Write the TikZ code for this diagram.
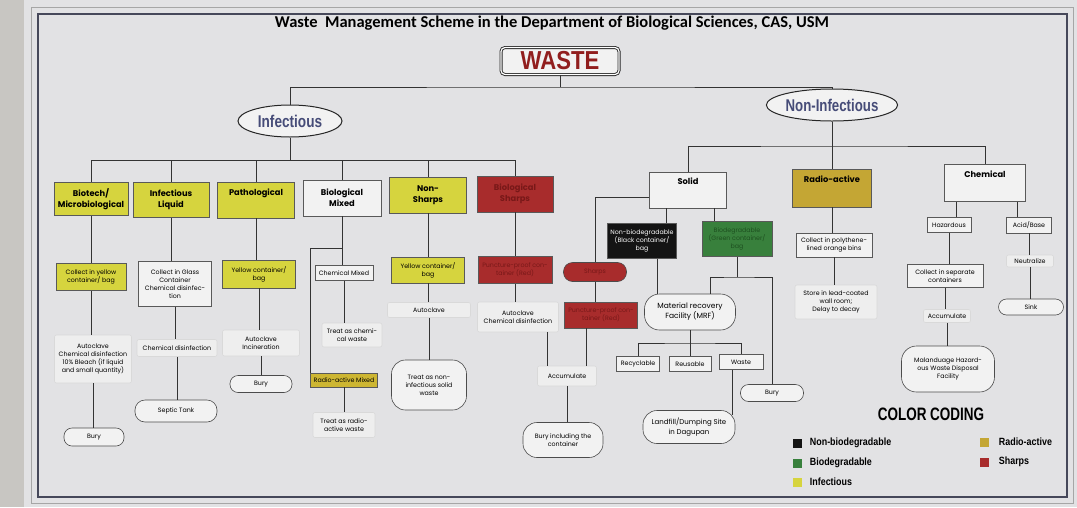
\documentclass[tikz,border=0pt]{standalone}
\usepackage{fontspec}
\setmainfont{Poppins}
\newfontfamily\ttlfont{Carlito}
\newfontfamily\hvyfont{Liberation Sans}
\usepackage{graphicx}
\usepackage{tikz}
\usetikzlibrary{shapes.geometric,positioning,calc}

\definecolor{bgc}{RGB}{226,226,228}
\definecolor{edgec}{RGB}{200,198,194}
\definecolor{framec}{RGB}{70,72,90}
\definecolor{boxc}{RGB}{242,242,242}
\definecolor{softc}{RGB}{238,238,238}
\definecolor{yellowc}{RGB}{214,212,62}
\definecolor{redc}{RGB}{168,44,44}
\definecolor{redtxt}{RGB}{120,24,24}
\definecolor{goldc}{RGB}{196,166,52}
\definecolor{rmixc}{RGB}{205,182,50}
\definecolor{greenc}{RGB}{56,128,60}
\definecolor{greentxt}{RGB}{30,80,32}
\definecolor{blackc}{RGB}{20,20,20}
\definecolor{wastec}{RGB}{145,30,30}
\definecolor{ovalc}{RGB}{70,76,120}

\newcommand\boxtext{\fontsize{6.3}{8}\selectfont}
\newcommand\hdtext{\fontsize{8.3}{11}\selectfont\bfseries}
\newcommand\legtext{\hvyfont\fontsize{10.5}{10.5}\selectfont\bfseries}

\tikzset{
  box/.style={draw=black!65,fill=boxc,line width=0.6pt,align=center,inner sep=1pt,font=\boxtext},
  ybox/.style={box,fill=yellowc},
  rbox/.style={box,fill=redc,text=redtxt},
  hbox/.style={box,font=\hdtext},
  soft/.style={box,draw=black!15,fill=softc,rounded corners=2pt},
  term/.style={box,draw=black!70,rounded corners=8pt},
  oval/.style={ellipse,draw=black!85,line width=1pt,fill=boxc,inner sep=0pt,text=ovalc},
  link/.style={draw=black!80,line width=1pt},
  legsq/.style={minimum size=9pt,inner sep=0pt},
  legtxt/.style={font=\legtext,anchor=west,inner sep=0pt}
}

\begin{document}
\begin{tikzpicture}[x=1pt,y=-1pt]
\useasboundingbox (0,0) rectangle (1077,507);
\fill[bgc] (0,0) rectangle (1077,507);
\fill[edgec] (0,0) rectangle (24,507);
\draw[black!35,line width=0.6pt] (31,7) rectangle (1073,503);
\draw[framec,line width=1.2pt] (38,14) rectangle (1067,497);

\node[font=\ttlfont\fontsize{16.5}{16.5}\selectfont\bfseries] (title) at (552,23) {Waste\ \ Management Scheme in the Department of Biological Sciences, CAS, USM};

\node[draw=black!85,double=white,double distance=1.2pt,line width=0.9pt,rounded corners=4pt,fill=boxc,minimum width=118pt,minimum height=27pt,inner sep=0pt,text=wastec,font=\hvyfont\fontsize{26}{26}\selectfont\bfseries] (waste) at (560,61) {\scalebox{0.85}[1]{WASTE}};
\node[oval,minimum width=104pt,minimum height=32pt,font=\hvyfont\fontsize{17}{17}\selectfont\bfseries] (infect) at (290,121) {\scalebox{0.8}[1]{Infectious}};
\node[oval,minimum width=108pt,minimum height=32pt,font=\hvyfont\fontsize{17}{17}\selectfont\bfseries] (noninf) at (832,105) {\scalebox{0.78}[1]{Non-Infectious}};

\coordinate (wbus) at (560,87);
\coordinate (ibus) at (290,160);
\coordinate (nbus) at (832,146);
\coordinate (mjoin) at (342,248);
\coordinate (gjoin) at (737,277);
\coordinate (rjoin) at (690,343);

% infectious columns
\node[ybox,font=\hdtext,minimum width=74pt,minimum height=33pt] (bio) at (91,199) {Biotech/\\Microbiological};
\node[ybox,font=\hdtext,minimum width=76pt,minimum height=35pt] (liq) at (171,200) {Infectious\\Liquid};
\node[ybox,font=\hdtext,minimum width=77pt,minimum height=36pt] (path) at (256,200) {Pathological\\[4pt]\mbox{}};
\node[hbox,minimum width=78pt,minimum height=36pt] (bmix) at (342,198) {Biological\\Mixed};
\node[ybox,font=\hdtext,minimum width=77pt,minimum height=36pt] (nons) at (428,195) {Non-\\Sharps};
\node[rbox,font=\hdtext,minimum width=76pt,minimum height=36pt] (bsharp) at (515,194) {Biological\\Sharps};

\node[ybox,minimum width=70pt,minimum height=27pt] (bio2) at (91,277) {Collect in yellow\\container/ bag};
\node[box,minimum width=73pt,minimum height=45pt] (liq2) at (175,284) {Collect in Glass\\Container\\Chemical disinfec-\\tion};
\node[ybox,minimum width=73pt,minimum height=28pt] (path2) at (259,274) {Yellow container/\\bag};

\node[soft,minimum width=77pt,minimum height=48pt] (bio3) at (93,359) {Autoclave\\Chemical disinfection\\10\% Bleach (if liquid\\and small quantity)};
\node[soft,minimum width=80pt,minimum height=17pt] (liq3) at (177,348) {Chemical disinfection};
\node[soft,minimum width=77pt,minimum height=26pt] (path3) at (261,343) {Autoclave\\Incineration};

\node[term,minimum width=60pt,minimum height=18pt] (bio4) at (94,437) {Bury};
\node[term,minimum width=82pt,minimum height=22pt,rounded corners=10pt] (liq4) at (176,411) {Septic Tank};
\node[term,minimum width=62pt,minimum height=17pt] (path4) at (261,384) {Bury};

\node[box,minimum width=58pt,minimum height=15pt] (cmix) at (344,273) {Chemical Mixed};
\node[soft,minimum width=60pt,minimum height=24pt] (ctreat) at (352,335) {Treat as chemi-\\cal waste};
\node[box,fill=rmixc,minimum width=67pt,minimum height=14pt] (rmix) at (344,380) {Radio-active Mixed};
\node[soft,minimum width=62pt,minimum height=25pt] (rtreat) at (344,425) {Treat as radio-\\active waste};

\node[ybox,minimum width=73pt,minimum height=26pt] (nons2) at (428,270) {Yellow container/\\bag};
\node[soft,minimum width=83pt,minimum height=15pt] (nons3) at (429,310) {Autoclave};
\node[term,minimum width=75pt,minimum height=50pt,rounded corners=14pt] (nons4) at (429,385) {Treat as non-\\infectious solid\\waste};

\node[rbox,minimum width=74pt,minimum height=27pt] (bsh2) at (515,270) {Puncture-proof con-\\tainer (Red)};
\node[soft,minimum width=81pt,minimum height=30pt] (bsh3) at (518,317) {Autoclave\\Chemical disinfection};
\node[soft,minimum width=59pt,minimum height=20pt] (acc) at (567,376) {Accumulate};
\node[term,minimum width=80pt,minimum height=35pt,rounded corners=14pt] (buryc) at (563,440) {Bury including the\\container};

% non-infectious columns
\node[hbox,minimum width=77pt,minimum height=36pt] (solid) at (688,190) {Solid\\[6pt]\mbox{}};
\node[hbox,fill=goldc,minimum width=79pt,minimum height=38pt] (radio) at (832,188) {Radio-active\\[6pt]\mbox{}};
\node[hbox,minimum width=81pt,minimum height=37pt] (chem) at (985,183) {Chemical\\[6pt]\mbox{}};

\node[term,fill=redc,text=redtxt,minimum width=63pt,minimum height=19pt,rounded corners=9pt] (sharps) at (595,272) {Sharps};
\node[rbox,minimum width=73pt,minimum height=26pt] (sharps2) at (601,315) {Puncture-proof con-\\tainer (Red)};
\node[box,fill=blackc,text=white,minimum width=69pt,minimum height=35pt] (nbio) at (642,241) {Non-biodegradable\\(Black container/\\bag};
\node[box,fill=greenc,text=greentxt,minimum width=70pt,minimum height=35pt] (gbio) at (737,239) {Biodegradable\\(Green container/\\bag};
\node[term,minimum width=91pt,minimum height=36pt,rounded corners=15pt,font=\fontsize{7.5}{10}\selectfont] (mrf) at (690,312) {Material recovery\\Facility (MRF)};
\node[box,minimum width=43pt,minimum height=15pt] (recy) at (638,364) {Recyclable};
\node[box,minimum width=42pt,minimum height=15pt] (reus) at (690,364) {Reusable};
\node[box,minimum width=44pt,minimum height=15pt] (wst) at (741,362) {Waste};
\node[term,minimum width=92pt,minimum height=33pt,rounded corners=14pt,font=\fontsize{7}{9.5}\selectfont] (land) at (689,427) {Landfill/Dumping Site\\in Dagupan};
\node[term,minimum width=63pt,minimum height=17pt] (bury2) at (772,393) {Bury};

\node[box,minimum width=76pt,minimum height=24pt] (rad2) at (834,245) {Collect in polythene-\\lined orange bins};
\node[soft,minimum width=82pt,minimum height=34pt] (rad3) at (836,302) {Store in lead-coated\\wall room;\\Delay to decay};

\node[box,minimum width=44pt,minimum height=15pt] (haz) at (949,225) {Hazardous};
\node[box,minimum width=45pt,minimum height=16pt] (acid) at (1029,225) {Acid/Base};
\node[box,minimum width=76pt,minimum height=23pt] (haz2) at (945,276) {Collect in separate\\containers};
\node[soft,minimum width=47pt,minimum height=13pt] (acc2) at (947,316) {Accumulate};
\node[term,minimum width=93pt,minimum height=46pt,rounded corners=15pt] (malan) at (948,369) {Malanduage Hazard-\\ous Waste Disposal\\Facility};
\node[soft,minimum width=47pt,minimum height=12pt] (neut) at (1030,261) {Neutralize};
\node[term,minimum width=65pt,minimum height=16pt] (sink) at (1031,307) {Sink};

% connectors
\draw[link] (waste) -- (wbus);
\draw[link] (infect.north) |- (wbus) -| (noninf.north);
\draw[link] (infect) -- (ibus);
\foreach \n in {bio,liq,path,bmix,nons,bsharp} \draw[link] (ibus) -| (\n.north);
\foreach \a/\b in {bio/bio2,bio2/bio3,bio3/bio4,liq/liq2,liq2/liq3,liq3/liq4,path/path2,path2/path3,path3/path4,
  cmix/ctreat,rmix/rtreat,nons/nons2,nons2/nons3,nons3/nons4,bsharp/bsh2,bsh2/bsh3,acc/buryc,
  sharps/sharps2,radio/rad2,rad2/rad3,haz/haz2,haz2/acc2,acc2/malan,acid/neut,neut/sink}
  \draw[link] (\a.south) -- (\a.south |- \b.north);
\draw[link] (bmix) -- (mjoin);
\draw[link] (mjoin) -- (mjoin |- cmix.north);
\draw[link] (mjoin) -| (rmix.north west);
\draw[link] ([xshift=29pt]bsh3.south) -- ([xshift=29pt]bsh3.south |- acc.north);
\draw[link] ([xshift=-15pt]sharps2.south) -- ([xshift=-15pt]sharps2.south |- acc.north);

\draw[link] (noninf) -- (nbus);
\draw[link] (solid.north) |- (nbus) -| (chem.north);
\draw[link] (nbus) -- (radio.north);
\draw[link] ([yshift=-7pt]solid.west) -| (sharps.north);
\draw[link] ([xshift=-22pt]solid.south) -- ([xshift=-22pt]solid.south |- nbio.north);
\draw[link] ([xshift=26pt]solid.south) -- ([xshift=26pt]solid.south |- gbio.north);
\draw[link] ([xshift=15pt]nbio.south) -- ([xshift=15pt]nbio.south |- mrf.north);
\draw[link] (gbio.south) -- (gjoin);
\draw[link] ([xshift=20pt]mrf.north) |- (gjoin) -| (bury2.north);
\draw[link] (mrf) -- (rjoin);
\draw[link] (recy.north) |- (rjoin) -| (wst.north);
\draw[link] (rjoin) -- (reus.north);
\draw[link] ([xshift=-9pt]wst.south) -- ([xshift=-9pt,yshift=-5pt]wst.south |- land.north east);
\draw[link] ([xshift=-29pt]chem.south) -- ([xshift=-29pt]chem.south |- haz.north);
\draw[link] ([xshift=32pt]chem.south) -- ([xshift=32pt]chem.south |- acid.north);

% colour coding
\node[font=\hvyfont\fontsize{18}{18}\selectfont\bfseries] (cc) at (931,414) {\scalebox{0.75}[1]{COLOR CODING}};
\node[legsq,fill=blackc] (lnb) at (797,443) {};
\node[legsq,fill=greenc] (lbd) at (797,463) {};
\node[legsq,fill=yellowc] (lin) at (797,482) {};
\node[legsq,fill=goldc] (lra) at (984,442) {};
\node[legsq,fill=redc] (lsh) at (984,462) {};
\node[legtxt,right=8pt of lnb] (tnb) {\scalebox{0.85}[1]{Non-biodegradable}};
\node[legtxt,right=8pt of lbd] (tbd) {\scalebox{0.85}[1]{Biodegradable}};
\node[legtxt,right=8pt of lin] (tin) {\scalebox{0.85}[1]{Infectious}};
\node[legtxt,right=10pt of lra] (tra) {\scalebox{0.85}[1]{Radio-active}};
\node[legtxt,right=10pt of lsh] (tsh) {\scalebox{0.85}[1]{Sharps}};
\end{tikzpicture}
\end{document}
